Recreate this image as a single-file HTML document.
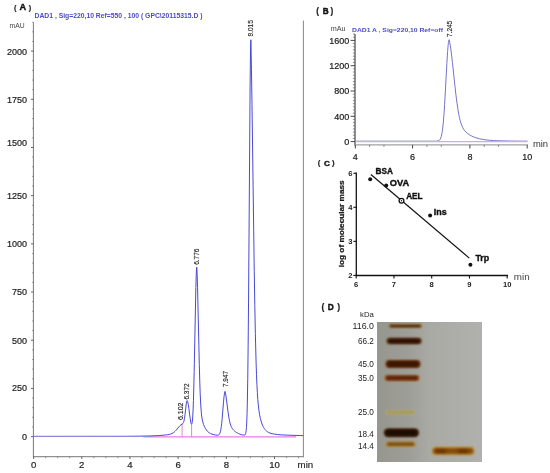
<!DOCTYPE html>
<html><head><meta charset="utf-8"><style>
html,body{margin:0;padding:0;background:#fff;}
svg{display:block;font-family:"Liberation Sans",sans-serif;filter:blur(0.3px);}
</style></head><body>
<svg width="550" height="473" viewBox="0 0 550 473">
<rect width="550" height="473" fill="#fff"/>
<text x="14.0" y="9.9" font-size="7.4" fill="#222" font-weight="bold" text-anchor="start" stroke="#222" stroke-width="0.2" >(</text>
<text x="19.6" y="9.9" font-size="9.2" fill="#111" font-weight="bold" text-anchor="start" stroke="#111" stroke-width="0.4" >A</text>
<text x="28.7" y="9.9" font-size="7.4" fill="#222" font-weight="bold" text-anchor="start" stroke="#222" stroke-width="0.2" >)</text>
<text x="34.5" y="18.3" font-size="7.2" fill="#4a4ac8" font-weight="bold" text-anchor="start" textLength="168" lengthAdjust="spacingAndGlyphs">DAD1 , Sig=220,10 Ref=550 , 100 ( GPC\20115315.D )</text>
<text x="9.6" y="28.2" font-size="6.6" fill="#444" font-weight="normal" text-anchor="start" textLength="15" lengthAdjust="spacingAndGlyphs">mAU</text>
<line x1="33.4" y1="22.3" x2="33.4" y2="457.1" stroke="#777" stroke-width="1" />
<line x1="33.0" y1="456.7" x2="303.9" y2="456.7" stroke="#777" stroke-width="1" />
<line x1="303.4" y1="20.6" x2="303.4" y2="457.1" stroke="#888" stroke-width="1" />
<line x1="31.0" y1="436.6" x2="33.5" y2="436.6" stroke="#555" stroke-width="0.9" />
<line x1="32.2" y1="426.96250000000003" x2="33.5" y2="426.96250000000003" stroke="#777" stroke-width="0.8" />
<line x1="32.2" y1="417.32500000000005" x2="33.5" y2="417.32500000000005" stroke="#777" stroke-width="0.8" />
<line x1="32.2" y1="407.6875" x2="33.5" y2="407.6875" stroke="#777" stroke-width="0.8" />
<line x1="32.2" y1="398.05" x2="33.5" y2="398.05" stroke="#777" stroke-width="0.8" />
<line x1="31.0" y1="388.4125" x2="33.5" y2="388.4125" stroke="#555" stroke-width="0.9" />
<line x1="32.2" y1="378.77500000000003" x2="33.5" y2="378.77500000000003" stroke="#777" stroke-width="0.8" />
<line x1="32.2" y1="369.13750000000005" x2="33.5" y2="369.13750000000005" stroke="#777" stroke-width="0.8" />
<line x1="32.2" y1="359.5" x2="33.5" y2="359.5" stroke="#777" stroke-width="0.8" />
<line x1="32.2" y1="349.8625" x2="33.5" y2="349.8625" stroke="#777" stroke-width="0.8" />
<line x1="31.0" y1="340.225" x2="33.5" y2="340.225" stroke="#555" stroke-width="0.9" />
<line x1="32.2" y1="330.58750000000003" x2="33.5" y2="330.58750000000003" stroke="#777" stroke-width="0.8" />
<line x1="32.2" y1="320.95000000000005" x2="33.5" y2="320.95000000000005" stroke="#777" stroke-width="0.8" />
<line x1="32.2" y1="311.3125" x2="33.5" y2="311.3125" stroke="#777" stroke-width="0.8" />
<line x1="32.2" y1="301.675" x2="33.5" y2="301.675" stroke="#777" stroke-width="0.8" />
<line x1="31.0" y1="292.0375" x2="33.5" y2="292.0375" stroke="#555" stroke-width="0.9" />
<line x1="32.2" y1="282.4" x2="33.5" y2="282.4" stroke="#777" stroke-width="0.8" />
<line x1="32.2" y1="272.76250000000005" x2="33.5" y2="272.76250000000005" stroke="#777" stroke-width="0.8" />
<line x1="32.2" y1="263.125" x2="33.5" y2="263.125" stroke="#777" stroke-width="0.8" />
<line x1="32.2" y1="253.4875" x2="33.5" y2="253.4875" stroke="#777" stroke-width="0.8" />
<line x1="31.0" y1="243.85000000000002" x2="33.5" y2="243.85000000000002" stroke="#555" stroke-width="0.9" />
<line x1="32.2" y1="234.2125" x2="33.5" y2="234.2125" stroke="#777" stroke-width="0.8" />
<line x1="32.2" y1="224.57500000000002" x2="33.5" y2="224.57500000000002" stroke="#777" stroke-width="0.8" />
<line x1="32.2" y1="214.93750000000003" x2="33.5" y2="214.93750000000003" stroke="#777" stroke-width="0.8" />
<line x1="32.2" y1="205.3" x2="33.5" y2="205.3" stroke="#777" stroke-width="0.8" />
<line x1="31.0" y1="195.66250000000002" x2="33.5" y2="195.66250000000002" stroke="#555" stroke-width="0.9" />
<line x1="32.2" y1="186.025" x2="33.5" y2="186.025" stroke="#777" stroke-width="0.8" />
<line x1="32.2" y1="176.3875" x2="33.5" y2="176.3875" stroke="#777" stroke-width="0.8" />
<line x1="32.2" y1="166.75" x2="33.5" y2="166.75" stroke="#777" stroke-width="0.8" />
<line x1="32.2" y1="157.1125" x2="33.5" y2="157.1125" stroke="#777" stroke-width="0.8" />
<line x1="31.0" y1="147.47500000000002" x2="33.5" y2="147.47500000000002" stroke="#555" stroke-width="0.9" />
<line x1="32.2" y1="137.83750000000003" x2="33.5" y2="137.83750000000003" stroke="#777" stroke-width="0.8" />
<line x1="32.2" y1="128.2" x2="33.5" y2="128.2" stroke="#777" stroke-width="0.8" />
<line x1="32.2" y1="118.5625" x2="33.5" y2="118.5625" stroke="#777" stroke-width="0.8" />
<line x1="32.2" y1="108.92500000000001" x2="33.5" y2="108.92500000000001" stroke="#777" stroke-width="0.8" />
<line x1="31.0" y1="99.28750000000002" x2="33.5" y2="99.28750000000002" stroke="#555" stroke-width="0.9" />
<line x1="32.2" y1="89.65000000000003" x2="33.5" y2="89.65000000000003" stroke="#777" stroke-width="0.8" />
<line x1="32.2" y1="80.01249999999999" x2="33.5" y2="80.01249999999999" stroke="#777" stroke-width="0.8" />
<line x1="32.2" y1="70.375" x2="33.5" y2="70.375" stroke="#777" stroke-width="0.8" />
<line x1="32.2" y1="60.73750000000001" x2="33.5" y2="60.73750000000001" stroke="#777" stroke-width="0.8" />
<line x1="31.0" y1="51.10000000000002" x2="33.5" y2="51.10000000000002" stroke="#555" stroke-width="0.9" />
<line x1="32.2" y1="41.462500000000034" x2="33.5" y2="41.462500000000034" stroke="#777" stroke-width="0.8" />
<line x1="32.2" y1="31.82499999999999" x2="33.5" y2="31.82499999999999" stroke="#777" stroke-width="0.8" />
<line x1="32.2" y1="22.1875" x2="33.5" y2="22.1875" stroke="#777" stroke-width="0.8" />
<text x="27.0" y="54.7" font-size="9.0" fill="#222" font-weight="normal" text-anchor="end" stroke="#222" stroke-width="0.2" >2000</text>
<text x="27.0" y="102.6" font-size="9.0" fill="#222" font-weight="normal" text-anchor="end" stroke="#222" stroke-width="0.2" >1750</text>
<text x="27.0" y="145.6" font-size="9.0" fill="#222" font-weight="normal" text-anchor="end" stroke="#222" stroke-width="0.2" >1500</text>
<text x="27.0" y="198.8" font-size="9.0" fill="#222" font-weight="normal" text-anchor="end" stroke="#222" stroke-width="0.2" >1250</text>
<text x="27.0" y="247.3" font-size="9.0" fill="#222" font-weight="normal" text-anchor="end" stroke="#222" stroke-width="0.2" >1000</text>
<text x="27.0" y="294.5" font-size="9.0" fill="#222" font-weight="normal" text-anchor="end" stroke="#222" stroke-width="0.2" >750</text>
<text x="27.0" y="344.1" font-size="9.0" fill="#222" font-weight="normal" text-anchor="end" stroke="#222" stroke-width="0.2" >500</text>
<text x="27.0" y="391.0" font-size="9.0" fill="#222" font-weight="normal" text-anchor="end" stroke="#222" stroke-width="0.2" >250</text>
<text x="27.0" y="439.5" font-size="9.0" fill="#222" font-weight="normal" text-anchor="end" stroke="#222" stroke-width="0.2" >0</text>
<line x1="33.6" y1="456.6" x2="33.6" y2="459.0" stroke="#555" stroke-width="0.9" />
<line x1="45.645" y1="456.6" x2="45.645" y2="458.2" stroke="#777" stroke-width="0.8" />
<line x1="57.69" y1="456.6" x2="57.69" y2="458.2" stroke="#777" stroke-width="0.8" />
<line x1="69.735" y1="456.6" x2="69.735" y2="458.2" stroke="#777" stroke-width="0.8" />
<line x1="81.78" y1="456.6" x2="81.78" y2="459.0" stroke="#555" stroke-width="0.9" />
<line x1="93.825" y1="456.6" x2="93.825" y2="458.2" stroke="#777" stroke-width="0.8" />
<line x1="105.87" y1="456.6" x2="105.87" y2="458.2" stroke="#777" stroke-width="0.8" />
<line x1="117.91499999999999" y1="456.6" x2="117.91499999999999" y2="458.2" stroke="#777" stroke-width="0.8" />
<line x1="129.96" y1="456.6" x2="129.96" y2="459.0" stroke="#555" stroke-width="0.9" />
<line x1="142.005" y1="456.6" x2="142.005" y2="458.2" stroke="#777" stroke-width="0.8" />
<line x1="154.05" y1="456.6" x2="154.05" y2="458.2" stroke="#777" stroke-width="0.8" />
<line x1="166.095" y1="456.6" x2="166.095" y2="458.2" stroke="#777" stroke-width="0.8" />
<line x1="178.14" y1="456.6" x2="178.14" y2="459.0" stroke="#555" stroke-width="0.9" />
<line x1="190.185" y1="456.6" x2="190.185" y2="458.2" stroke="#777" stroke-width="0.8" />
<line x1="202.23" y1="456.6" x2="202.23" y2="458.2" stroke="#777" stroke-width="0.8" />
<line x1="214.275" y1="456.6" x2="214.275" y2="458.2" stroke="#777" stroke-width="0.8" />
<line x1="226.32" y1="456.6" x2="226.32" y2="459.0" stroke="#555" stroke-width="0.9" />
<line x1="238.36499999999998" y1="456.6" x2="238.36499999999998" y2="458.2" stroke="#777" stroke-width="0.8" />
<line x1="250.41" y1="456.6" x2="250.41" y2="458.2" stroke="#777" stroke-width="0.8" />
<line x1="262.455" y1="456.6" x2="262.455" y2="458.2" stroke="#777" stroke-width="0.8" />
<line x1="274.5" y1="456.6" x2="274.5" y2="459.0" stroke="#555" stroke-width="0.9" />
<line x1="286.545" y1="456.6" x2="286.545" y2="458.2" stroke="#777" stroke-width="0.8" />
<line x1="298.59000000000003" y1="456.6" x2="298.59000000000003" y2="458.2" stroke="#777" stroke-width="0.8" />
<text x="33.6" y="467.8" font-size="9.6" fill="#222" font-weight="normal" text-anchor="middle" stroke="#222" stroke-width="0.2" >0</text>
<text x="81.78" y="467.8" font-size="9.6" fill="#222" font-weight="normal" text-anchor="middle" stroke="#222" stroke-width="0.2" >2</text>
<text x="129.96" y="467.8" font-size="9.6" fill="#222" font-weight="normal" text-anchor="middle" stroke="#222" stroke-width="0.2" >4</text>
<text x="178.14" y="467.8" font-size="9.6" fill="#222" font-weight="normal" text-anchor="middle" stroke="#222" stroke-width="0.2" >6</text>
<text x="226.32" y="467.8" font-size="9.6" fill="#222" font-weight="normal" text-anchor="middle" stroke="#222" stroke-width="0.2" >8</text>
<text x="274.5" y="467.8" font-size="9.6" fill="#222" font-weight="normal" text-anchor="middle" stroke="#222" stroke-width="0.2" >10</text>
<text x="297.6" y="467.7" font-size="9.7" fill="#222" font-weight="normal" text-anchor="start" stroke="#222" stroke-width="0.15" >min</text>
<text x="316.2" y="13.6" font-size="8.3" fill="#222" font-weight="bold" text-anchor="start" stroke="#222" stroke-width="0.2" >(</text>
<text x="322.7" y="13.8" font-size="8.2" fill="#111" font-weight="bold" text-anchor="start" stroke="#111" stroke-width="0.4" >B</text>
<text x="330.6" y="13.6" font-size="8.3" fill="#222" font-weight="bold" text-anchor="start" stroke="#222" stroke-width="0.2" >)</text>
<text x="352.0" y="32.2" font-size="6.0" fill="#4a4ac8" font-weight="bold" text-anchor="start" textLength="91" lengthAdjust="spacingAndGlyphs">DAD1 A , Sig=220,10 Ref=off</text>
<text x="330.8" y="30.8" font-size="6.4" fill="#444" font-weight="normal" text-anchor="start" textLength="14.8" lengthAdjust="spacingAndGlyphs">mAu</text>
<line x1="355.0" y1="34.1" x2="355.0" y2="145.6" stroke="#333" stroke-width="1.1" />
<line x1="355.0" y1="144.8" x2="527.9" y2="144.8" stroke="#a0a0a0" stroke-width="1.2" />
<line x1="350.6" y1="141.6" x2="355.0" y2="141.6" stroke="#333" stroke-width="0.9" />
<line x1="352.9" y1="138.4375" x2="355.0" y2="138.4375" stroke="#666" stroke-width="0.7" />
<line x1="352.9" y1="135.275" x2="355.0" y2="135.275" stroke="#666" stroke-width="0.7" />
<line x1="352.9" y1="132.11249999999998" x2="355.0" y2="132.11249999999998" stroke="#666" stroke-width="0.7" />
<line x1="352.9" y1="128.95" x2="355.0" y2="128.95" stroke="#666" stroke-width="0.7" />
<line x1="352.9" y1="125.7875" x2="355.0" y2="125.7875" stroke="#666" stroke-width="0.7" />
<line x1="352.9" y1="122.625" x2="355.0" y2="122.625" stroke="#666" stroke-width="0.7" />
<line x1="352.9" y1="119.46249999999999" x2="355.0" y2="119.46249999999999" stroke="#666" stroke-width="0.7" />
<line x1="350.6" y1="116.3" x2="355.0" y2="116.3" stroke="#333" stroke-width="0.9" />
<line x1="352.9" y1="113.13749999999999" x2="355.0" y2="113.13749999999999" stroke="#666" stroke-width="0.7" />
<line x1="352.9" y1="109.975" x2="355.0" y2="109.975" stroke="#666" stroke-width="0.7" />
<line x1="352.9" y1="106.8125" x2="355.0" y2="106.8125" stroke="#666" stroke-width="0.7" />
<line x1="352.9" y1="103.64999999999999" x2="355.0" y2="103.64999999999999" stroke="#666" stroke-width="0.7" />
<line x1="352.9" y1="100.4875" x2="355.0" y2="100.4875" stroke="#666" stroke-width="0.7" />
<line x1="352.9" y1="97.32499999999999" x2="355.0" y2="97.32499999999999" stroke="#666" stroke-width="0.7" />
<line x1="352.9" y1="94.1625" x2="355.0" y2="94.1625" stroke="#666" stroke-width="0.7" />
<line x1="350.6" y1="91.0" x2="355.0" y2="91.0" stroke="#333" stroke-width="0.9" />
<line x1="352.9" y1="87.83749999999999" x2="355.0" y2="87.83749999999999" stroke="#666" stroke-width="0.7" />
<line x1="352.9" y1="84.675" x2="355.0" y2="84.675" stroke="#666" stroke-width="0.7" />
<line x1="352.9" y1="81.51249999999999" x2="355.0" y2="81.51249999999999" stroke="#666" stroke-width="0.7" />
<line x1="352.9" y1="78.35" x2="355.0" y2="78.35" stroke="#666" stroke-width="0.7" />
<line x1="352.9" y1="75.1875" x2="355.0" y2="75.1875" stroke="#666" stroke-width="0.7" />
<line x1="352.9" y1="72.02499999999999" x2="355.0" y2="72.02499999999999" stroke="#666" stroke-width="0.7" />
<line x1="352.9" y1="68.8625" x2="355.0" y2="68.8625" stroke="#666" stroke-width="0.7" />
<line x1="350.6" y1="65.69999999999999" x2="355.0" y2="65.69999999999999" stroke="#333" stroke-width="0.9" />
<line x1="352.9" y1="62.537499999999994" x2="355.0" y2="62.537499999999994" stroke="#666" stroke-width="0.7" />
<line x1="352.9" y1="59.375" x2="355.0" y2="59.375" stroke="#666" stroke-width="0.7" />
<line x1="352.9" y1="56.21249999999999" x2="355.0" y2="56.21249999999999" stroke="#666" stroke-width="0.7" />
<line x1="352.9" y1="53.05" x2="355.0" y2="53.05" stroke="#666" stroke-width="0.7" />
<line x1="352.9" y1="49.88749999999999" x2="355.0" y2="49.88749999999999" stroke="#666" stroke-width="0.7" />
<line x1="352.9" y1="46.724999999999994" x2="355.0" y2="46.724999999999994" stroke="#666" stroke-width="0.7" />
<line x1="352.9" y1="43.5625" x2="355.0" y2="43.5625" stroke="#666" stroke-width="0.7" />
<line x1="350.6" y1="40.39999999999999" x2="355.0" y2="40.39999999999999" stroke="#333" stroke-width="0.9" />
<line x1="352.9" y1="37.2375" x2="355.0" y2="37.2375" stroke="#666" stroke-width="0.7" />
<line x1="352.9" y1="34.07499999999999" x2="355.0" y2="34.07499999999999" stroke="#666" stroke-width="0.7" />
<text x="349.2" y="43.7" font-size="9.0" fill="#1a1a1a" font-weight="normal" text-anchor="end" stroke="#1a1a1a" stroke-width="0.2" >1600</text>
<text x="349.2" y="69.0" font-size="9.0" fill="#1a1a1a" font-weight="normal" text-anchor="end" stroke="#1a1a1a" stroke-width="0.2" >1200</text>
<text x="349.2" y="94.3" font-size="9.0" fill="#1a1a1a" font-weight="normal" text-anchor="end" stroke="#1a1a1a" stroke-width="0.2" >800</text>
<text x="349.2" y="119.6" font-size="9.0" fill="#1a1a1a" font-weight="normal" text-anchor="end" stroke="#1a1a1a" stroke-width="0.2" >400</text>
<text x="349.2" y="144.9" font-size="9.0" fill="#1a1a1a" font-weight="normal" text-anchor="end" stroke="#1a1a1a" stroke-width="0.2" >0</text>
<line x1="355.3" y1="144.9" x2="355.3" y2="148.5" stroke="#444" stroke-width="1.0" />
<line x1="369.625" y1="144.9" x2="369.625" y2="146.8" stroke="#666" stroke-width="0.8" />
<line x1="383.95" y1="144.9" x2="383.95" y2="146.8" stroke="#666" stroke-width="0.8" />
<line x1="412.6" y1="144.9" x2="412.6" y2="148.5" stroke="#444" stroke-width="1.0" />
<line x1="426.925" y1="144.9" x2="426.925" y2="146.8" stroke="#666" stroke-width="0.8" />
<line x1="441.25" y1="144.9" x2="441.25" y2="146.8" stroke="#666" stroke-width="0.8" />
<line x1="469.9" y1="144.9" x2="469.9" y2="148.5" stroke="#444" stroke-width="1.0" />
<line x1="484.225" y1="144.9" x2="484.225" y2="146.8" stroke="#666" stroke-width="0.8" />
<line x1="498.55" y1="144.9" x2="498.55" y2="146.8" stroke="#666" stroke-width="0.8" />
<line x1="527.2" y1="144.9" x2="527.2" y2="148.5" stroke="#444" stroke-width="1.0" />
<text x="355.3" y="159.7" font-size="9.0" fill="#1a1a1a" font-weight="normal" text-anchor="middle" stroke="#1a1a1a" stroke-width="0.2" >4</text>
<text x="412.6" y="159.7" font-size="9.0" fill="#1a1a1a" font-weight="normal" text-anchor="middle" stroke="#1a1a1a" stroke-width="0.2" >6</text>
<text x="469.9" y="159.7" font-size="9.0" fill="#1a1a1a" font-weight="normal" text-anchor="middle" stroke="#1a1a1a" stroke-width="0.2" >8</text>
<text x="527.2" y="159.7" font-size="9.0" fill="#1a1a1a" font-weight="normal" text-anchor="middle" stroke="#1a1a1a" stroke-width="0.2" >10</text>
<text x="532.9" y="147.4" font-size="9.7" fill="#333" font-weight="normal" text-anchor="start" textLength="15.2" lengthAdjust="spacingAndGlyphs">min</text>
<text x="317.8" y="164.8" font-size="7.8" fill="#222" font-weight="bold" text-anchor="start" stroke="#222" stroke-width="0.2" >(</text>
<text x="323.9" y="165.5" font-size="8.1" fill="#111" font-weight="bold" text-anchor="start" stroke="#111" stroke-width="0.4" >C</text>
<text x="331.9" y="164.8" font-size="7.8" fill="#222" font-weight="bold" text-anchor="start" stroke="#222" stroke-width="0.2" >)</text>
<line x1="356.3" y1="172.6" x2="356.3" y2="276.1" stroke="#111" stroke-width="1.3" />
<line x1="355.6" y1="275.5" x2="508.0" y2="275.5" stroke="#111" stroke-width="1.3" />
<line x1="353.4" y1="275.4" x2="356.3" y2="275.4" stroke="#111" stroke-width="1.1" />
<text x="352.4" y="278.1" font-size="7.6" fill="#222" font-weight="bold" text-anchor="end" >2</text>
<line x1="353.4" y1="241.34999999999997" x2="356.3" y2="241.34999999999997" stroke="#111" stroke-width="1.1" />
<text x="352.4" y="244.05" font-size="7.6" fill="#222" font-weight="bold" text-anchor="end" >3</text>
<line x1="353.4" y1="207.29999999999998" x2="356.3" y2="207.29999999999998" stroke="#111" stroke-width="1.1" />
<text x="352.4" y="210.0" font-size="7.6" fill="#222" font-weight="bold" text-anchor="end" >4</text>
<line x1="353.4" y1="173.25" x2="356.3" y2="173.25" stroke="#111" stroke-width="1.1" />
<text x="352.4" y="175.95" font-size="7.6" fill="#222" font-weight="bold" text-anchor="end" >6</text>
<line x1="356.2" y1="275.5" x2="356.2" y2="278.6" stroke="#111" stroke-width="1.1" />
<text x="356.2" y="286.6" font-size="7.6" fill="#222" font-weight="bold" text-anchor="middle" >6</text>
<line x1="393.95" y1="275.5" x2="393.95" y2="278.6" stroke="#111" stroke-width="1.1" />
<text x="393.95" y="286.6" font-size="7.6" fill="#222" font-weight="bold" text-anchor="middle" >7</text>
<line x1="431.7" y1="275.5" x2="431.7" y2="278.6" stroke="#111" stroke-width="1.1" />
<text x="431.7" y="286.6" font-size="7.6" fill="#222" font-weight="bold" text-anchor="middle" >8</text>
<line x1="469.45" y1="275.5" x2="469.45" y2="278.6" stroke="#111" stroke-width="1.1" />
<text x="469.45" y="286.6" font-size="7.6" fill="#222" font-weight="bold" text-anchor="middle" >9</text>
<line x1="507.2" y1="275.5" x2="507.2" y2="278.6" stroke="#111" stroke-width="1.1" />
<text x="507.2" y="286.6" font-size="7.6" fill="#222" font-weight="bold" text-anchor="middle" >10</text>
<text x="513.8" y="279.6" font-size="9.2" fill="#444" font-weight="normal" text-anchor="start" textLength="15.8" lengthAdjust="spacingAndGlyphs">min</text>
<text transform="translate(343.7,267.3) rotate(-90)" font-size="7.6" font-weight="bold" fill="#1a1a1a" stroke="#1a1a1a" stroke-width="0.25" textLength="87" lengthAdjust="spacingAndGlyphs">log of molecular mass</text>
<line x1="370.9" y1="174.5" x2="469.3" y2="258.1" stroke="#111" stroke-width="1.2" />
<circle cx="370.2" cy="179.3" r="2.0" fill="#111"/>
<circle cx="386.2" cy="185.5" r="2.0" fill="#111"/>
<circle cx="430.1" cy="215.4" r="2.0" fill="#111"/>
<circle cx="470.4" cy="264.7" r="2.0" fill="#111"/>
<circle cx="401.5" cy="200.8" r="2.4" fill="#fff" stroke="#111" stroke-width="1.3"/>
<circle cx="401.5" cy="200.8" r="0.7" fill="#111"/>
<text x="375.6" y="174.4" font-size="8.2" fill="#111" font-weight="bold" text-anchor="start" stroke="#111" stroke-width="0.35" >BSA</text>
<text x="389.8" y="185.6" font-size="8.2" fill="#111" font-weight="bold" text-anchor="start" stroke="#111" stroke-width="0.35" textLength="19.4" lengthAdjust="spacingAndGlyphs">OVA</text>
<text x="406.2" y="198.6" font-size="8.2" fill="#111" font-weight="bold" text-anchor="start" stroke="#111" stroke-width="0.35" >AEL</text>
<text x="433.8" y="214.8" font-size="8.2" fill="#111" font-weight="bold" text-anchor="start" stroke="#111" stroke-width="0.35" textLength="12.9" lengthAdjust="spacingAndGlyphs">Ins</text>
<text x="475.4" y="260.8" font-size="8.2" fill="#111" font-weight="bold" text-anchor="start" stroke="#111" stroke-width="0.35" textLength="13.8" lengthAdjust="spacingAndGlyphs">Trp</text>
<text x="321.6" y="310.1" font-size="8.7" fill="#222" font-weight="bold" text-anchor="start" stroke="#222" stroke-width="0.2" >(</text>
<text x="327.8" y="310.2" font-size="8.3" fill="#111" font-weight="bold" text-anchor="start" stroke="#111" stroke-width="0.4" >D</text>
<text x="337.3" y="310.1" font-size="8.7" fill="#222" font-weight="bold" text-anchor="start" stroke="#222" stroke-width="0.2" >)</text>
<text x="373.9" y="317.1" font-size="7.6" fill="#222" font-weight="normal" text-anchor="end" textLength="13.8" lengthAdjust="spacingAndGlyphs">kDa</text>
<text x="373.9" y="328.6" font-size="8.2" fill="#222" font-weight="normal" text-anchor="end" textLength="21.4" lengthAdjust="spacingAndGlyphs">116.0</text>
<text x="373.9" y="343.5" font-size="8.2" fill="#222" font-weight="normal" text-anchor="end" >66.2</text>
<text x="373.9" y="366.9" font-size="8.2" fill="#222" font-weight="normal" text-anchor="end" >45.0</text>
<text x="373.9" y="381.0" font-size="8.2" fill="#222" font-weight="normal" text-anchor="end" >35.0</text>
<text x="373.9" y="415.1" font-size="8.2" fill="#222" font-weight="normal" text-anchor="end" >25.0</text>
<text x="373.9" y="437.1" font-size="8.2" fill="#222" font-weight="normal" text-anchor="end" >18.4</text>
<text x="373.9" y="448.8" font-size="8.2" fill="#222" font-weight="normal" text-anchor="end" >14.4</text>

<defs>
 <linearGradient id="gelbg" x1="0" y1="0" x2="1" y2="0">
  <stop offset="0" stop-color="#96968f"/>
  <stop offset="0.3" stop-color="#9e9e98"/>
  <stop offset="0.5" stop-color="#aaaaa5"/>
  <stop offset="1" stop-color="#b0b0ac"/>
 </linearGradient>
 <filter id="blur0" x="-20%" y="-100%" width="140%" height="300%"><feGaussianBlur stdDeviation="0.85"/></filter>
 <filter id="blur1" x="-20%" y="-100%" width="140%" height="300%"><feGaussianBlur stdDeviation="1.1"/></filter>
 <filter id="blur2" x="-20%" y="-100%" width="140%" height="300%"><feGaussianBlur stdDeviation="1.4"/></filter>
</defs>
<rect x="377" y="322" width="105" height="140" fill="url(#gelbg)"/>

<rect x="388.4" y="323.90" width="33.80" height="4.20" rx="2.10" fill="#9c7838" filter="url(#blur1)"/>
<rect x="389.9" y="324.90" width="30.80" height="2.20" rx="1.10" fill="#3a2208" filter="url(#blur0)"/>
<rect x="386.4" y="337.70" width="35.40" height="6.60" rx="3.30" fill="#6a4420" filter="url(#blur1)"/>
<rect x="387.9" y="338.70" width="32.40" height="4.60" rx="2.30" fill="#2a1006" filter="url(#blur0)"/>
<rect x="385.4" y="360.10" width="35.20" height="7.80" rx="3.90" fill="#7a4418" filter="url(#blur1)"/>
<rect x="386.9" y="361.10" width="32.20" height="5.80" rx="2.90" fill="#3a1204" filter="url(#blur0)"/>
<rect x="384.6" y="375.00" width="34.80" height="6.00" rx="3.00" fill="#9a5a1c" filter="url(#blur1)"/>
<rect x="386.1" y="376.00" width="31.80" height="4.00" rx="2.00" fill="#5a2208" filter="url(#blur0)"/>
<rect x="385.2" y="410.30" width="30.40" height="4.00" rx="2.00" fill="#b2a878" filter="url(#blur1)"/>
<rect x="386.7" y="411.10" width="27.40" height="2.40" rx="1.20" fill="#a6984e" filter="url(#blur0)"/>
<rect x="383.8" y="428.60" width="35.20" height="8.40" rx="4.20" fill="#4a2c10" filter="url(#blur1)"/>
<rect x="385.3" y="429.60" width="32.20" height="6.40" rx="3.20" fill="#1e0804" filter="url(#blur0)"/>
<rect x="385.6" y="441.60" width="30.00" height="5.20" rx="2.60" fill="#b08a3a" filter="url(#blur1)"/>
<rect x="387.1" y="442.60" width="27.00" height="3.20" rx="1.60" fill="#7a4a14" filter="url(#blur0)"/>
<rect x="431.8" y="446.80" width="42.80" height="8.40" rx="4.20" fill="#b88a34" filter="url(#blur1)"/>
<rect x="433.3" y="448.30" width="39.80" height="5.40" rx="2.70" fill="#844c10" filter="url(#blur0)"/>
<ellipse cx="441" cy="451" rx="6" ry="2" fill="#6a3006" filter="url(#blur1)" opacity="0.8"/>
<ellipse cx="463" cy="451" rx="6" ry="2" fill="#6a3006" filter="url(#blur1)" opacity="0.8"/>
<line x1="143.4" y1="436.8" x2="296.0" y2="436.8" stroke="#e87ce8" stroke-width="1.3" />
<line x1="182.1" y1="423.6" x2="182.1" y2="436.8" stroke="#e070e0" stroke-width="0.9" />
<line x1="191.6" y1="425.0" x2="191.6" y2="436.8" stroke="#e070e0" stroke-width="0.9" />
<path d="M33.60,436.40L111.55,436.37L127.75,436.32L139.35,436.20L149.90,435.96L158.30,435.59L165.20,435.04L167.55,434.74L169.35,434.40L170.75,434.00L172.00,433.49L173.15,432.85L174.25,432.04L175.15,431.23L176.05,430.29L178.90,426.90L179.90,425.80L181.00,424.81L182.80,423.53L183.10,423.20L183.35,422.79L183.65,422.10L183.95,421.13L184.45,418.70L185.00,414.79L186.30,403.50L186.70,401.29L186.90,400.70L187.10,400.52L187.25,400.65L187.40,400.92L187.70,401.77L188.30,404.63L188.90,408.66L190.15,418.22L190.75,421.99L191.00,423.15L191.25,423.98L191.50,424.40L191.60,424.43L191.70,424.37L191.95,423.79L192.20,422.50L192.65,417.95L193.05,410.94L193.45,400.58L194.20,371.50L195.85,287.63L196.35,271.90L196.60,268.05L196.70,267.34L196.80,267.13L197.15,274.48L197.55,287.21L199.30,364.74L199.75,381.02L200.20,393.79L200.75,404.98L201.35,412.85L201.70,415.97L202.10,418.67L202.55,420.95L203.05,422.90L203.60,424.60L204.20,426.13L204.85,427.52L205.60,428.86L206.35,429.97L207.20,431.00L208.10,431.88L209.10,432.66L210.45,433.46L212.00,434.13L213.80,434.66L215.85,435.07L217.25,435.22L218.15,435.16L218.50,435.05L218.85,434.85L219.40,434.26L219.95,433.16L220.40,431.69L220.85,429.54L221.30,426.59L221.70,423.23L222.15,418.65L223.50,402.22L224.00,396.86L224.55,392.79L224.85,391.65L225.00,391.40L225.10,391.36L225.60,393.80L226.10,396.92L228.10,412.28L229.00,418.16L229.50,420.77L230.05,423.09L230.65,425.06L231.30,426.68L231.80,427.65L232.35,428.54L232.95,429.35L233.65,430.14L234.45,430.92L235.30,431.63L236.20,432.27L237.20,432.88L238.50,433.54L239.90,434.11L241.45,434.61L243.10,435.01L244.00,435.16L244.55,435.14L244.95,434.97L245.30,434.55L245.55,433.97L245.75,433.25L246.15,430.70L246.45,427.29L246.75,421.90L247.05,413.74L247.30,404.15L247.75,378.67L248.15,345.30L248.55,301.06L250.10,86.28L250.50,51.94L250.70,42.84L250.80,40.54L250.90,39.77L251.45,69.16L252.00,104.75L254.25,271.73L254.80,305.53L255.35,333.67L256.10,362.93L256.50,374.69L256.90,384.21L257.35,392.71L257.80,399.34L258.30,405.04L258.90,410.23L259.60,414.74L260.40,418.61L261.35,422.07L262.45,425.07L263.05,426.38L263.65,427.50L264.30,428.54L264.95,429.42L265.70,430.27L266.45,430.98L267.30,431.65L268.20,432.22L269.95,433.04L272.00,433.68L274.45,434.16L277.50,434.54L281.60,434.86L287.20,435.15L303.40,435.67" fill="none" stroke="#4848d8" stroke-width="1.0" stroke-linejoin="round"/>
<line x1="33.6" y1="436.4" x2="150.0" y2="436.4" stroke="#8c8ce4" stroke-width="1.0" />
<text transform="translate(252.9,36.4) rotate(-90)" font-size="6.8" fill="#222" stroke="#222" stroke-width="0.15" textLength="16.2" lengthAdjust="spacingAndGlyphs">9.015</text>
<text transform="translate(199.10000000000002,264.8) rotate(-90)" font-size="6.8" fill="#222" stroke="#222" stroke-width="0.15" textLength="16.2" lengthAdjust="spacingAndGlyphs">6.776</text>
<text transform="translate(227.5,387.0) rotate(-90)" font-size="6.8" fill="#222" stroke="#222" stroke-width="0.15" textLength="16.0" lengthAdjust="spacingAndGlyphs">7.947</text>
<text transform="translate(189.3,399.6) rotate(-90)" font-size="6.8" fill="#222" stroke="#222" stroke-width="0.15" textLength="16.2" lengthAdjust="spacingAndGlyphs">6.372</text>
<text transform="translate(182.5,420.0) rotate(-90)" font-size="6.8" fill="#222" stroke="#222" stroke-width="0.15" textLength="17.4" lengthAdjust="spacingAndGlyphs">6.102</text>
<path d="M355.50,141.20L435.50,141.19L437.10,141.12L438.15,140.94L438.95,140.60L439.65,140.02L440.25,139.17L440.75,138.09L441.20,136.74L441.65,134.92L442.10,132.54L442.50,129.86L443.25,123.18L443.95,114.78L444.65,104.26L446.85,63.69L447.60,51.63L448.05,46.05L448.45,42.45L448.85,40.31L449.05,39.81L449.20,39.70L449.70,42.08L450.25,45.23L451.35,53.06L452.45,62.51L454.80,84.78L455.85,94.17L457.00,103.27L458.15,110.86L458.80,114.46L459.50,117.80L460.20,120.64L460.95,123.18L461.75,125.40L462.60,127.32L463.50,128.96L464.55,130.48L465.95,132.07L467.65,133.56L469.60,134.91L471.80,136.11L474.20,137.16L476.80,138.06L479.65,138.81L482.75,139.43L485.95,139.90L489.50,140.27L493.50,140.57L498.05,140.79L509.50,141.06L527.40,141.18" fill="none" stroke="#7474cc" stroke-width="1.0"/>
<line x1="355.5" y1="141.6" x2="437.5" y2="141.6" stroke="#bcbcc6" stroke-width="1.3" />
<line x1="437.5" y1="141.6" x2="527.6" y2="141.6" stroke="#c4b4dc" stroke-width="1.2" />
<text transform="translate(451.5,37.0) rotate(-90)" font-size="6.8" fill="#222" stroke="#222" stroke-width="0.15" textLength="16.2" lengthAdjust="spacingAndGlyphs">7.245</text>
</svg>
</body></html>
